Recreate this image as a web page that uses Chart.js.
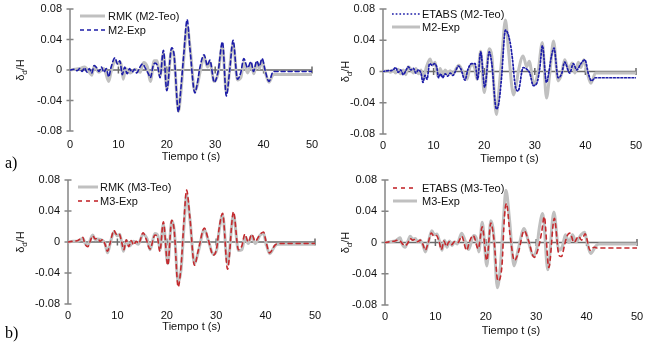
<!DOCTYPE html>
<html>
<head>
<meta charset="utf-8">
<script src="https://cdn.jsdelivr.net/npm/chart.js@4/dist/chart.umd.min.js"></script>
<style>
  html,body{margin:0;padding:0;background:#fff;}
  #wrap{position:relative;width:650px;height:345px;overflow:hidden;background:#fff;}
  canvas{position:absolute;}
  .lab{position:absolute;font-family:'Liberation Serif','Times New Roman',serif;font-size:16px;line-height:16px;color:#000;}
</style>
</head>
<body>
<div id="wrap">
  <canvas id="c1" width="325" height="172" style="left:0;top:0"></canvas>
  <canvas id="c2" width="325" height="172" style="left:325px;top:0"></canvas>
  <canvas id="c3" width="325" height="173" style="left:0;top:172px"></canvas>
  <canvas id="c4" width="325" height="173" style="left:325px;top:172px"></canvas>
  <div class="lab" style="left:5px;top:155px">a)</div>
  <div class="lab" style="left:5px;top:325px">b)</div>
</div>
<script>
// ---------------- DATA ----------------
const xTickValues = [0, 10, 20, 30, 40, 50];
const yTickValues = [-0.08, -0.04, 0, 0.04, 0.08];
const xTitle = 'Tiempo t (s)';

// M2 experimental (shared by panel a-left and a-right)
const tM2Exp = [0,1,1.5,2,2.5,3,3.5,4,4.5,5,5.5,6,6.5,7,7.5,8,8.5,9.3,9.8,10.3,10.8,11.3,11.8,12.3,12.8,13.3,13.8,14.3,15,15.6,16.2,16.6,17.2,17.6,18.1,18.6,19.3,20.0,21.0,21.5,22.4,22.9,23.5,24.2,24.8,25.8,26.3,26.8,27.7,28.4,28.9,29.8,30.6,31.5,32.3,33.0,33.7,34.6,35.3,35.9,36.7,37.4,37.9,38.6,39.1,39.7,40.3,41.1,42,50];
const vM2Exp = [0,0.001,-0.001,0.002,-0.002,0.003,-0.003,0.002,-0.004,0.006,0.003,-0.002,0.004,-0.003,0.002,-0.009,0.004,0.016,0.008,0.012,-0.006,0.004,-0.005,0.002,-0.003,0.001,-0.004,0.002,0.008,0.002,-0.005,-0.01,0.006,0.009,0.005,-0.01,0.026,-0.027,0.029,0.02,-0.055,-0.025,0.02,0.066,0.027,-0.03,-0.018,0.002,0.02,0.006,0.013,-0.016,-0.002,0.037,-0.034,0.0,0.039,-0.012,-0.003,0.015,0.003,0.011,-0.002,0.012,0.005,0.015,0.0,-0.015,-0.002,-0.002];

// RMK (M2-Teo)
const tRmkM2 = [0,1,2,3,4,4.5,5,6,7,8,8.5,9.3,10,10.5,11,11.5,12.5,13.5,14.5,15.2,16,16.6,17.4,18,18.6,19.3,20.0,21.0,21.5,22.4,22.9,23.5,24.2,24.8,25.8,26.3,26.9,27.7,28.4,28.9,29.8,30.6,31.5,32.3,33.7,34.6,35.3,35.9,36.7,37.4,38.0,38.6,39.1,39.7,40.3,41.1,42,50];
const vRmkM2 = [0,0.001,0.002,0.004,-0.003,-0.007,0.005,-0.003,0.002,-0.015,-0.002,0.012,0.008,0.01,-0.012,0.002,-0.004,0.001,-0.003,0.01,0.004,-0.015,0.012,0.012,-0.008,0.022,-0.025,0.026,0.018,-0.054,-0.03,0.015,0.058,0.03,-0.028,-0.02,-0.002,0.017,0.004,0.01,-0.015,-0.004,0.032,-0.03,0.034,-0.013,-0.01,0.01,-0.004,0.008,-0.005,0.01,0.002,0.012,-0.002,-0.016,-0.006,-0.006];

// ETABS (M2-Teo)
const tEtabsM2 = [0,1,2,2.5,3,3.5,4,4.5,5,5.5,6,6.5,7,7.5,7.9,8.3,8.7,9.2,9.7,10.2,10.6,11,11.4,11.8,12.3,12.8,13.3,13.8,14.3,14.9,15.4,16.2,16.8,17.5,18.2,18.7,19.3,20.1,21.0,21.5,22.4,22.9,23.4,24.2,25.1,25.6,26.1,26.7,27.7,28.4,29.0,29.7,30.4,31.0,31.5,32.3,32.8,33.3,33.8,34.6,35.3,35.9,36.9,37.6,38.3,39.1,39.9,40.6,41.2,42,50];
const vEtabsM2 = [0,0.001,0.002,0.005,-0.001,0.002,-0.004,0.001,0.006,0.002,0.004,-0.002,0.002,-0.002,-0.014,-0.005,-0.01,0.01,0.008,0.01,0.006,-0.008,-0.003,-0.008,-0.003,-0.006,-0.002,-0.005,0,0.007,0.003,-0.011,0.003,0.01,0.01,-0.01,0.025,-0.02,0.025,0.01,-0.048,-0.04,-0.01,0.053,0.038,0.015,-0.017,-0.025,0.005,0.003,-0.002,-0.018,-0.015,0.005,0.033,-0.014,0,0.02,0.03,-0.008,-0.003,0.012,-0.002,0.01,0.002,0.01,0.015,-0.003,-0.012,-0.008,-0.008];

// M3 experimental (shared by panel b-left and b-right)
const tM3Exp = [0,1,2,2.5,3,3.4,4,4.5,5,5.5,6,6.5,7,7.5,8,8.5,9.3,9.8,10.3,10.8,11.3,11.8,12.3,12.8,13.3,13.8,14.3,15.2,15.8,16.6,17.6,18.1,18.6,19.3,20.2,21.0,21.5,22.3,22.9,23.5,24.0,24.7,25.6,26.4,27.6,28.4,29.4,30.1,30.6,31.3,32.3,33.5,34.5,35.2,35.8,36.5,37.2,37.9,38.9,39.6,40.0,40.8,41.9,42.5,50];
const vM3Exp = [0,0.001,0.002,0.004,0.006,-0.002,-0.006,0.001,0.008,0.004,0.005,0.001,0.003,-0.003,-0.012,-0.002,0.015,0.01,0.011,0.002,-0.01,0.003,-0.006,0.002,-0.004,0.001,-0.002,0.012,0.004,-0.009,0.009,0.006,-0.012,0.026,-0.03,0.028,0.015,-0.058,-0.03,0.03,0.067,0.03,-0.03,-0.01,0.018,0.003,-0.017,-0.008,0.018,0.037,-0.035,0.039,-0.01,-0.005,0.01,0,0.01,0.001,0.01,0.013,0.003,-0.014,-0.004,-0.002,-0.002];

// RMK (M3-Teo)
const tRmkM3 = [0,1,2,3,3.5,4,5,5.5,6,7,7.5,8,8.5,9.3,10,10.5,11.2,11.8,12.5,13.3,14.2,15.2,16,16.6,17.6,18.2,18.6,19.3,20.2,21.0,21.5,22.3,22.9,23.5,24.0,24.7,25.6,26.4,27.6,28.4,29.4,30.1,30.6,31.3,32.3,33.5,34.5,35.2,35.8,36.5,37.2,37.9,38.9,39.6,40.0,40.8,41.9,42.5,50];
const vRmkM3 = [0,0.001,0.001,0.005,-0.002,-0.004,0.009,0.003,0.004,0.002,-0.002,-0.014,-0.003,0.013,0.008,0.01,-0.012,0.002,-0.005,0.001,-0.003,0.01,0.004,-0.01,0.011,0.008,-0.01,0.023,-0.028,0.027,0.016,-0.052,-0.035,0.022,0.06,0.028,-0.028,-0.012,0.016,0.002,-0.016,-0.01,0.015,0.035,-0.028,0.035,-0.011,-0.01,0.006,-0.002,0.008,-0.002,0.009,0.011,0.001,-0.015,-0.005,-0.003,-0.003];

// ETABS (M3-Teo)
const tEtabsM3 = [0,1,2,2.5,3,3.5,4,4.5,5,5.5,6,6.5,7,7.5,8,8.5,9.2,9.7,10.2,10.7,11.2,11.7,12.2,12.7,13.2,13.8,14.5,15.2,16.2,16.8,17.5,18.5,19.3,20.2,21.0,21.6,22.4,23.2,23.7,24.1,24.8,25.7,26.5,27.6,28.4,29.6,30.4,31.1,31.6,32.5,33.6,34.5,35.0,35.6,36.1,36.7,37.5,38.4,39.0,39.7,40.7,41.5,42,50];
const vEtabsM3 = [0,0.001,0.002,0.003,0.002,-0.002,-0.004,-0.001,0.005,0.003,0.004,0.001,0.003,-0.002,-0.01,-0.002,0.012,0.008,0.009,0.002,-0.009,0.002,-0.005,0.001,-0.003,0.001,0,0.008,-0.01,0.002,0.009,-0.008,0.02,-0.023,0.025,0.005,-0.049,-0.03,0.033,0.05,0.01,-0.023,-0.012,0.015,0.004,-0.019,-0.008,0.014,0.033,-0.032,0.031,-0.016,-0.018,-0.004,0.008,0.012,0,0.008,0.003,0.011,-0.01,-0.006,-0.007,-0.007];

// ---------------- STYLE / DRAW ----------------
const FONT = "'Liberation Sans', Arial, sans-serif";
const GRAY = '#c0c0c0', BLUE = '#1c1ca8', RED = '#c42a2e';

function pts(t, v) {
  const n = Math.min(t.length, v.length);
  const out = [];
  for (let i = 0; i < n; i++) out.push({x: t[i], y: v[i]});
  return out;
}

const decor = {
  id: 'decor',
  beforeDatasetsDraw(chart) {
    const {ctx, scales: {x, y}} = chart;
    const x0 = x.getPixelForValue(0);
    const x1 = x.getPixelForValue(50);
    const yz = y.getPixelForValue(0);
    ctx.save();
    ctx.strokeStyle = '#858585';
    ctx.lineWidth = 1.5;
    ctx.beginPath();
    ctx.moveTo(x0, y.getPixelForValue(0.08));
    ctx.lineTo(x0, y.getPixelForValue(-0.08));
    y.ticks.forEach(t => {
      const py = y.getPixelForValue(t.value);
      ctx.moveTo(x0 - 3.5, py); ctx.lineTo(x0 + 3.5, py);
    });
    ctx.stroke();
    ctx.strokeStyle = '#6a6a6a';
    ctx.beginPath();
    ctx.moveTo(x0, yz); ctx.lineTo(x1, yz);
    x.ticks.forEach(t => {
      if (t.value === 0) return;
      const px = x.getPixelForValue(t.value);
      ctx.moveTo(px, yz - 3.5); ctx.lineTo(px, yz + 3.5);
    });
    ctx.stroke();
    ctx.restore();
  },
  afterDatasetsDraw(chart, args, opts) {
    const {ctx, scales: {y}} = chart;
    ctx.save();
    ctx.font = '11px ' + FONT;
    ctx.textBaseline = 'middle';
    ctx.textAlign = 'left';
    opts.order.forEach((di, k) => {
      const ds = chart.data.datasets[di];
      const ly = opts.ly + k * opts.dy;
      ctx.save();
      ctx.strokeStyle = ds.borderColor;
      ctx.lineWidth = ds.borderWidth;
      ctx.setLineDash(ds.borderDash || []);
      ctx.beginPath();
      ctx.moveTo(opts.lx0, ly); ctx.lineTo(opts.lx1, ly);
      ctx.stroke();
      ctx.restore();
      ctx.fillStyle = '#111';
      ctx.fillText(ds.label, opts.tx, ly + 0.5);
    });
    const cy = y.getPixelForValue(0);
    ctx.translate(opts.titleX, cy);
    ctx.rotate(-Math.PI / 2);
    ctx.fillStyle = '#111';
    ctx.textBaseline = 'alphabetic';
    const f1 = '11px ' + FONT, f2 = '8px ' + FONT;
    ctx.font = f1; const wA = ctx.measureText('δ').width;
    ctx.font = f2; const wB = ctx.measureText('d').width;
    ctx.font = f1; const wC = ctx.measureText('/H').width;
    let sx = -(wA + wB + wC) / 2;
    const base = 4;
    ctx.font = f1; ctx.fillText('δ', sx, base); sx += wA;
    ctx.font = f2; ctx.fillText('d', sx, base + 2.5); sx += wB;
    ctx.font = f1; ctx.fillText('/H', sx, base);
    ctx.restore();
  }
};

function makePanel(id, datasets, L) {
  const canvas = document.getElementById(id);
  const H = canvas.height, W = canvas.width;
  datasets.forEach(d => { d.borderJoinStyle = 'round'; d.borderCapStyle = 'round'; d.cubicInterpolationMode = 'monotone'; });
  return new Chart(canvas, {
    type: 'line',
    data: {datasets},
    plugins: [decor],
    options: {
      responsive: false,
      animation: false,
      devicePixelRatio: 1,
      parsing: false,
      layout: {padding: {left: 0, right: W - L.right, top: L.top, bottom: 0}},
      elements: {point: {radius: 0}, line: {tension: 0.4}},
      plugins: {
        legend: {display: false},
        tooltip: {enabled: false},
        decor: L.decor
      },
      scales: {
        x: {
          type: 'linear', min: 0, max: 50,
          afterBuildTicks: s => { s.ticks = xTickValues.map(v => ({value: v})); },
          afterFit: s => { s.height = H - L.bottom; s.paddingLeft = 0; s.paddingRight = 0; },
          grid: {display: false, drawTicks: false},
          border: {display: false},
          ticks: {font: {family: FONT, size: 11}, color: '#111', padding: L.xPad, maxRotation: 0,
                  callback: v => String(v)},
          title: {display: true, text: xTitle, color: '#111', font: {family: FONT, size: 11},
                  padding: {top: 0, bottom: L.tPad}}
        },
        y: {
          type: 'linear', min: -0.08, max: 0.08,
          afterBuildTicks: s => { s.ticks = yTickValues.map(v => ({value: v})); },
          afterFit: s => { s.width = L.left; s.paddingTop = 0; s.paddingBottom = 0; },
          grid: {display: false, drawTicks: false},
          border: {display: false},
          ticks: {font: {family: FONT, size: 11}, color: '#111', padding: 8,
                  callback: v => (Math.abs(v) < 1e-9 ? '0' : v.toFixed(2))}
        }
      }
    }
  });
}

makePanel('c1', [
  {label: 'M2-Exp', data: pts(tM2Exp, vM2Exp), borderColor: BLUE, borderWidth: 1.6, borderDash: [4, 3]},
  {label: 'RMK (M2-Teo)', data: pts(tRmkM2, vRmkM2), borderColor: GRAY, borderWidth: 3}
], {left: 70, right: 312, top: 9, bottom: 131, xPad: 7, tPad: 8,
    decor: {order: [1, 0], lx0: 80, lx1: 105, tx: 108, ly: 16, dy: 14, titleX: 20}});

makePanel('c2', [
  {label: 'ETABS (M2-Teo)', data: pts(tEtabsM2, vEtabsM2), borderColor: BLUE, borderWidth: 1.7, borderDash: [1.7, 2]},
  {label: 'M2-Exp', data: pts(tM2Exp, vM2Exp), borderColor: GRAY, borderWidth: 3}
], {left: 58, right: 311, top: 9, bottom: 134, xPad: 5, tPad: 6,
    decor: {order: [0, 1], lx0: 67, lx1: 95, tx: 97, ly: 14, dy: 13, titleX: 20}});

makePanel('c3', [
  {label: 'M3-Exp', data: pts(tM3Exp, vM3Exp), borderColor: RED, borderWidth: 1.6, borderDash: [4, 4]},
  {label: 'RMK (M3-Teo)', data: pts(tRmkM3, vRmkM3), borderColor: GRAY, borderWidth: 3}
], {left: 68, right: 315, top: 8, bottom: 132, xPad: 5, tPad: 11,
    decor: {order: [1, 0], lx0: 78, lx1: 98, tx: 100, ly: 15, dy: 14, titleX: 20}});

makePanel('c4', [
  {label: 'ETABS (M3-Teo)', data: pts(tEtabsM3, vEtabsM3), borderColor: RED, borderWidth: 1.6, borderDash: [4, 4]},
  {label: 'M3-Exp', data: pts(tM3Exp, vM3Exp), borderColor: GRAY, borderWidth: 3}
], {left: 60, right: 312, top: 8, bottom: 133, xPad: 5, tPad: 7,
    decor: {order: [0, 1], lx0: 68, lx1: 92, tx: 97, ly: 16, dy: 13, titleX: 20}});
</script>
</body>
</html>
